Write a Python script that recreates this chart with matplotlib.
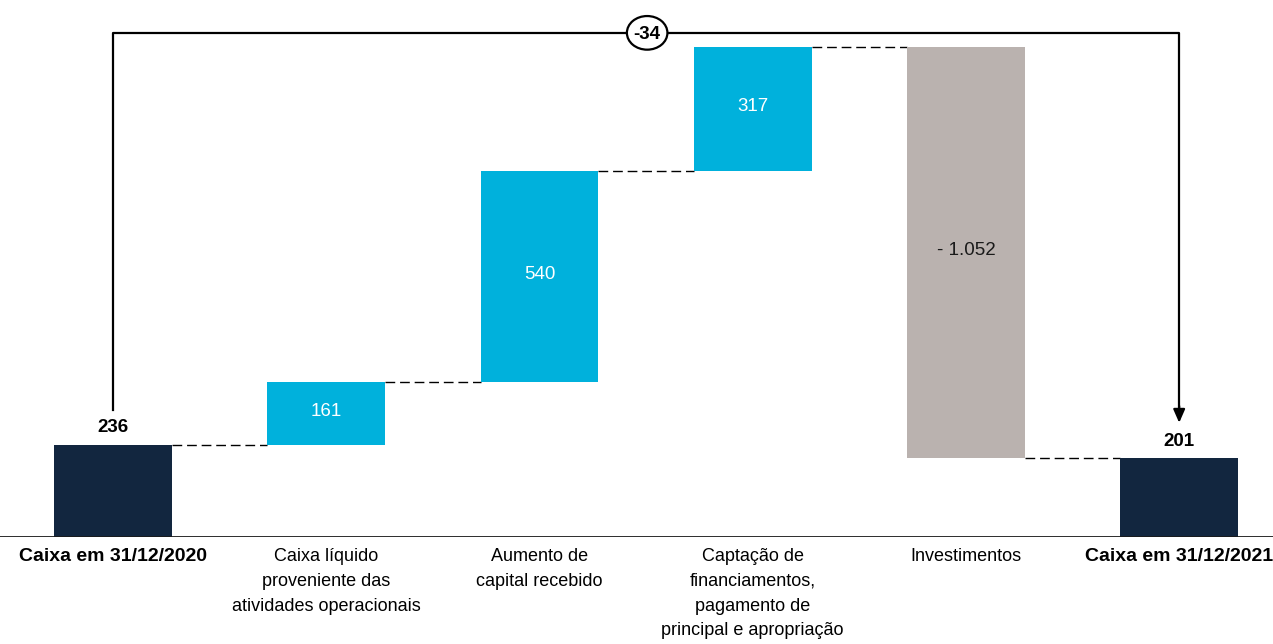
import numpy as np
import matplotlib.pyplot as plt
from matplotlib.patches import Ellipse

plt.rcParams['font.family'] = ['Liberation Sans', 'DejaVu Sans']

# Data
labels = ["Caixa em 31/12/2020", "Caixa líquido\nproveniente das\natividades operacionais",
          "Aumento de\ncapital recebido",
          "Captação de\nfinanciamentos,\npagamento de\nprincipal e apropriação",
          "Investimentos", "Caixa em 31/12/2021"]
start_value = 236
deltas = [161, 540, 317, -1052]
end_value = 201
value_labels = ["236", "161", "540", "317", "- 1.052", "201"]
total_change_label = "-34"

navy = "#12263f"
blue = "#00b1dc"
gray = "#bab2af"

fig = plt.figure(figsize=(12.73, 6.44), dpi=100)
ax = fig.add_axes([0, 107 / 644, 1, 537 / 644])
ax.set_xlim(-0.53, 5.44)
ax.set_ylim(0, 1373)
ax.axis('off')

x = np.arange(len(labels))
w = 0.553

# Running totals
bottoms = []
heights = []
colors = []
level = start_value
bottoms.append(0); heights.append(start_value); colors.append(navy)
for d in deltas:
    if d >= 0:
        bottoms.append(level); heights.append(d); colors.append(blue)
    else:
        bottoms.append(level + d); heights.append(-d); colors.append(gray)
    level += d
bottoms.append(0); heights.append(end_value); colors.append(navy)

ax.bar(x, heights, bottom=bottoms, width=w, color=colors, zorder=2)

# Connectors
tops = [start_value]
level = start_value
for d in deltas:
    level += d
    tops.append(level)
for i in range(len(x) - 1):
    yv = tops[i]
    ax.plot([x[i] + w / 2, x[i + 1] - w / 2], [yv, yv], color='black', lw=1,
            ls=(0, (7, 3.5)), zorder=1)

# Value labels
ax.text(x[0], start_value + 22, value_labels[0], ha='center', va='bottom',
        fontsize=13.5, fontweight='bold')
ax.text(x[-1], end_value + 22, value_labels[-1], ha='center', va='bottom',
        fontsize=13.5, fontweight='bold')
for i in range(1, 5):
    c = 'white' if deltas[i - 1] >= 0 else '#1a1a1a'
    ax.text(x[i], bottoms[i] + heights[i] / 2 + 5, value_labels[i], ha='center', va='center',
            fontsize=13.5, color=c)

# Baseline
ax.axhline(0, color='#1a1a1a', lw=2, zorder=3)

# Bracket
yb = 1289
ax.plot([x[0], x[0], x[-1], x[-1]], [325, yb, yb, 330], color='black', lw=1.6, zorder=3)
ax.annotate("", xy=(x[-1], 292), xytext=(x[-1], 335),
            arrowprops=dict(arrowstyle='-|>,head_width=0.35,head_length=0.8',
                            color='black', lw=1.6, shrinkA=0, shrinkB=0))
xm = (x[0] + x[-1]) / 2
ax.add_patch(Ellipse((xm + 0.005, yb), 0.19, 86, facecolor='white', edgecolor='black',
                     lw=1.6, zorder=4))
ax.text(xm + 0.005, yb - 3, total_change_label, ha='center', va='center', fontsize=13.5,
        fontweight='bold', zorder=5)

# Category labels
for i, lab in enumerate(labels):
    bold = i in (0, len(labels) - 1)
    ax.text(x[i], -28, lab, ha='center', va='top', fontsize=14 if bold else 13,
            fontweight='bold' if bold else 'normal', linespacing=1.6, clip_on=False)

fig.savefig("out.png", dpi=100)
